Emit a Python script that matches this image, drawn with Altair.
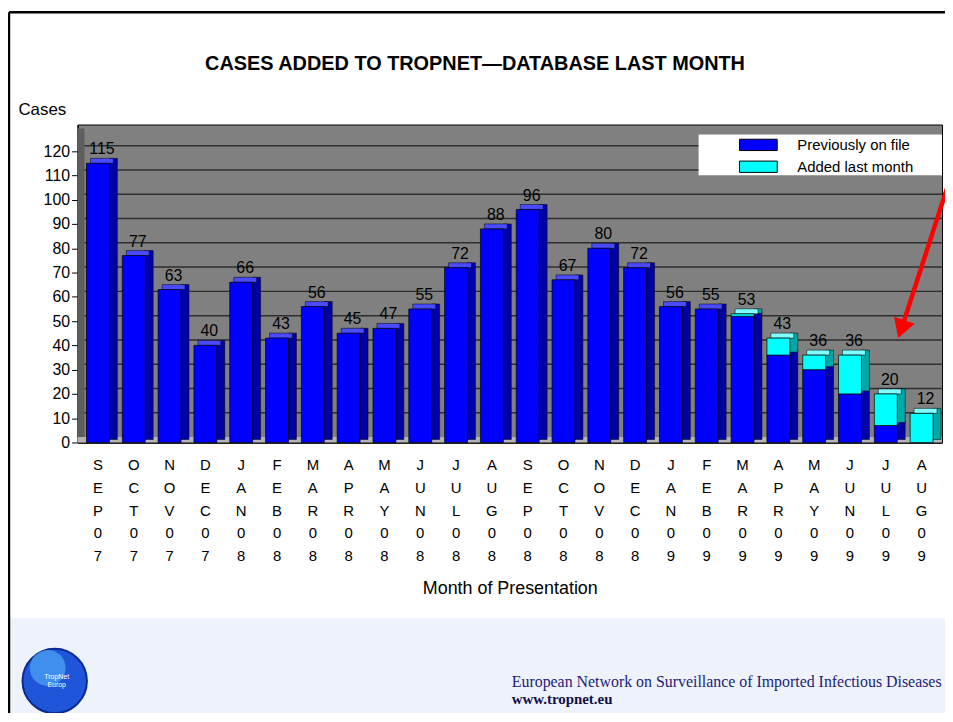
import altair as alt
import pandas as pd

months = ["SEP07", "OCT07", "NOV07", "DEC07", "JAN08", "FEB08", "MAR08", "APR08",
          "MAY08", "JUN08", "JUL08", "AUG08", "SEP08", "OCT08", "NOV08", "DEC08",
          "JAN09", "FEB09", "MAR09", "APR09", "MAY09", "JUN09", "JUL09", "AUG09"]
previous = [115, 77, 63, 40, 66, 43, 56, 45, 47, 55, 72, 88, 96, 67, 80, 72,
            56, 55, 52, 36, 30, 20, 7, 0]
added = [0, 0, 0, 0, 0, 0, 0, 0, 0, 0, 0, 0, 0, 0, 0, 0,
         0, 0, 1, 7, 6, 16, 13, 12]
series_names = ["Previously on file", "Added last month"]
series_colors = ["#0000ff", "#00ffff"]
side_colors = ["#0000a8", "#00a8a8"]
top_colors = ["#4a4aff", "#7fffff"]
y_ticks = [0, 10, 20, 30, 40, 50, 60, 70, 80, 90, 100, 110, 120]

W, H = 870, 320
STEP = W / (24 - 0.36 + 0.5)
BW = STEP * (1 - 0.36)

rows = []
for m, p, a in zip(months, previous, added):
    rows.append(dict(month=m, series=series_names[0], start=0, end=p,
                     side=side_colors[0]))
    rows.append(dict(month=m, series=series_names[1], start=p, end=p + a,
                     side=side_colors[1]))
long_df = pd.DataFrame(rows)
long_df = long_df[long_df["end"] > long_df["start"]]

tot_df = pd.DataFrame({
    "month": months,
    "total": [p + a for p, a in zip(previous, added)],
    "top": [top_colors[1] if a > 0 else top_colors[0] for a in added],
})
grid_df = pd.DataFrame({"v": y_ticks[1:]})
one = pd.DataFrame({"a": [0]})

FONT = "Liberation Sans"

xscale = alt.Scale(domain=months, paddingInner=0.36, paddingOuter=0.25)
yscale = alt.Scale(domain=[0, 131], nice=False)

xaxis = alt.Axis(
    title="Month of Presentation", labelAngle=0,
    labelExpr="split(datum.label, '')", labelLineHeight=23,
    labelFontSize=15, labelFont=FONT, labelColor="black", labelPadding=15,
    ticks=False, domainColor="black", domainWidth=1.5,
    titleFontSize=18, titleFont=FONT, titleFontWeight="normal",
    titleColor="black", titlePadding=16,
)
yaxis = alt.Axis(
    values=y_ticks, grid=False, title="Cases", titleAngle=0,
    titleX=-60, titleY=-15, titleAlign="left", titleBaseline="middle",
    titleFontSize=17, titleFont=FONT, titleFontWeight="normal", titleColor="black",
    labelFontSize=16, labelFont=FONT, labelColor="black", labelPadding=2,
    labelOverlap=False,
    tickSize=6, tickColor="black", domainColor="black",
)

# decorations (page frame, footer band, walls)
footer_bg = alt.Chart(one).mark_rect(color="#eef2fa").encode(
    x=alt.value(-70), x2=alt.value(W + 5), y=alt.value(497), y2=alt.value(H + 280))
frame_left = alt.Chart(one).mark_rule(color="black", strokeWidth=2.5).encode(
    x=alt.value(-69), y=alt.value(-113), y2=alt.value(H + 280))
frame_top = alt.Chart(one).mark_rule(color="black", strokeWidth=2.5).encode(
    x=alt.value(-69), x2=alt.value(W + 5), y=alt.value(-113))
left_wall = alt.Chart(one).mark_rect(color="#5e5e5e").encode(
    x=alt.value(0), x2=alt.value(7), y=alt.value(4), y2=alt.value(H))
floor = alt.Chart(one).mark_rect(color="#b4b4b4").encode(
    x=alt.value(0), x2=alt.value(W), y=alt.value(H - 5.5), y2=alt.value(H))

grid = alt.Chart(grid_df).mark_rule(color="#2e2e2e", strokeWidth=1.5, yOffset=-5.5).encode(
    y=alt.Y("v:Q", scale=yscale, axis=yaxis),
    x=alt.value(7), x2=alt.value(W),
)
legend_box = alt.Chart(one).mark_rect(color="white").encode(
    x=alt.value(625), x2=alt.value(W), y=alt.value(10), y2=alt.value(51))

side = alt.Chart(long_df).mark_bar(
    width=8, xOffset=BW / 2 + 4, yOffset=-5, y2Offset=-3,
    stroke="black", strokeWidth=0.5,
).encode(
    x=alt.X("month:N", scale=xscale, sort=months, axis=xaxis),
    y=alt.Y("end:Q", scale=yscale, axis=yaxis),
    y2="start:Q",
    fill=alt.Fill("side:N", scale=None),
)
top = alt.Chart(tot_df).mark_bar(
    xOffset=4, yOffset=-5, stroke="black", strokeWidth=0.5,
).encode(
    x=alt.X("month:N", scale=xscale, sort=months, axis=xaxis),
    y=alt.Y("total:Q", scale=yscale, axis=yaxis),
    y2="total:Q",
    fill=alt.Fill("top:N", scale=None),
)
front = alt.Chart(long_df).mark_bar(stroke="black", strokeWidth=0.7).encode(
    x=alt.X("month:N", scale=xscale, sort=months, axis=xaxis),
    y=alt.Y("end:Q", scale=yscale, axis=yaxis),
    y2="start:Q",
    fill=alt.Fill(
        "series:N",
        scale=alt.Scale(domain=series_names, range=series_colors),
        legend=alt.Legend(
            orient="none", legendX=625, legendY=8, title=None,
            padding=5, symbolOffset=47.7, labelOffset=31.7, rowPadding=5,
            symbolType="M-3,-0.9H3V0.9H-3Z", symbolSize=160,
            symbolStrokeColor="black", symbolStrokeWidth=1,
            labelFontSize=15, labelFont=FONT, labelColor="black",
            labelLimit=300,
        ),
    ),
)
labels = alt.Chart(tot_df).mark_text(
    dx=4, dy=-9, baseline="alphabetic", fontSize=16, font=FONT, color="black",
).encode(
    x=alt.X("month:N", scale=xscale, sort=months, axis=xaxis),
    y=alt.Y("total:Q", scale=yscale, axis=yaxis),
    text="total:Q",
)

title = alt.Chart(one).mark_text(
    text="CASES ADDED TO TROPNET\u2014DATABASE LAST MONTH",
    fontSize=20, fontWeight="bold", font=FONT, color="black", align="center",
    baseline="middle",
).encode(x=alt.value(400), y=alt.value(-61))

# red arrow
arrow_line = alt.Chart(one).mark_rule(color="#ff0000", strokeWidth=4.5).encode(
    x=alt.value(878), y=alt.value(55), x2=alt.value(831), y2=alt.value(200))
arrow_head = alt.Chart(one).mark_point(
    shape="triangle-down", filled=True, color="#ff0000", opacity=1,
    size=480, angle=19,
).encode(x=alt.value(829), y=alt.value(206))

# logo
logo = alt.Chart(one).mark_point(
    shape="circle", filled=True, color="#1f55d8", opacity=1, size=4200,
    stroke="#0a2a90", strokeWidth=2,
).encode(x=alt.value(-23), y=alt.value(560))
logo_hi = alt.Chart(one).mark_point(
    shape="circle", filled=True, color="#4fa8f5", opacity=0.7, size=1300,
).encode(x=alt.value(-30), y=alt.value(547))
logo_text = alt.Chart(one).mark_text(
    text=["TropNet", "Europ"], fontSize=7, font=FONT, color="white",
    align="center", lineHeight=8,
).encode(x=alt.value(-21), y=alt.value(556))

foot1 = alt.Chart(one).mark_text(
    text="European Network on Surveillance of Imported Infectious Diseases",
    fontSize=16, font="Liberation Serif", color="#1c1c78", align="left",
    baseline="middle",
).encode(x=alt.value(437), y=alt.value(561))
foot2 = alt.Chart(one).mark_text(
    text="www.tropnet.eu", fontSize=15, font="Liberation Serif",
    fontWeight="bold", color="#10104a", align="left", baseline="middle",
).encode(x=alt.value(437), y=alt.value(578))

chart = alt.layer(
    footer_bg, frame_left, frame_top, left_wall, floor, grid, legend_box,
    side, top, front, labels, title, arrow_line, arrow_head,
    logo, logo_hi, logo_text, foot1, foot2,
).properties(
    width=W, height=H,
    autosize=alt.AutoSizeParams(type="none"),
    padding={"left": 70, "top": 115, "right": 3, "bottom": 270},
    background="white",
).configure_view(
    fill="#808080", stroke="black", strokeWidth=1,
)

chart.save("out.html", embed_options={"renderer": "svg", "actions": False})
